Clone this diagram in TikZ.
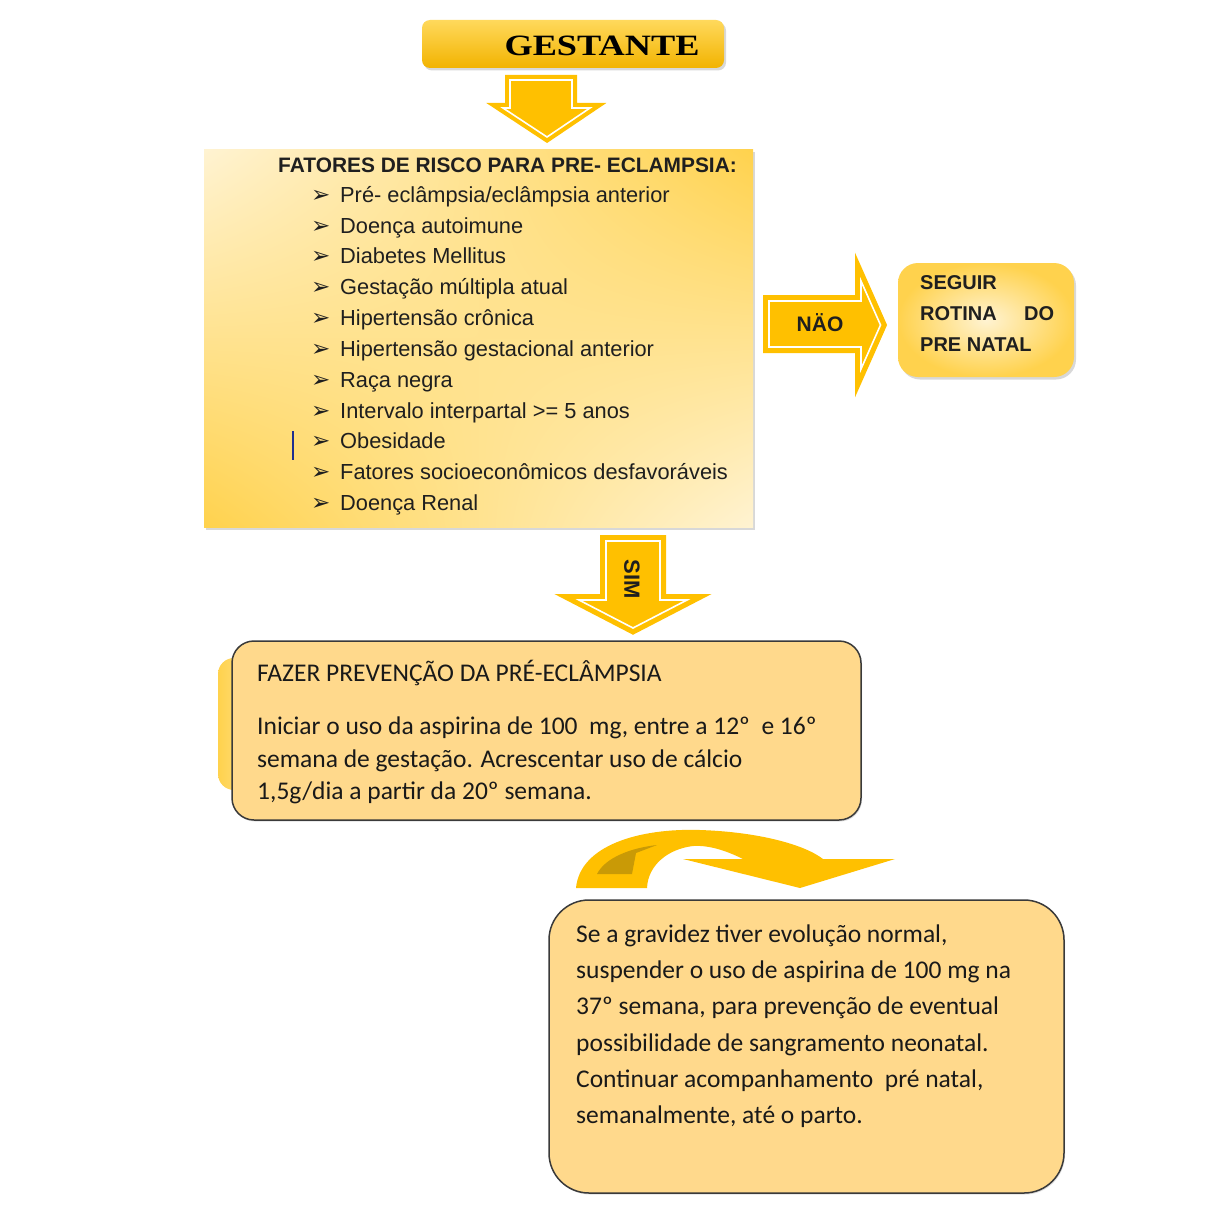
\documentclass[tikz,border=0pt]{standalone}
\usepackage{fontspec}
\setmainfont{Liberation Sans}
\newfontfamily\calib{Carlito}
\newfontfamily\tnr{Liberation Serif}
\newfontfamily\djv{DejaVu Sans}
\usetikzlibrary{shadows,shadings}
\definecolor{arrowor}{HTML}{FFC000}
\definecolor{boxfill}{HTML}{FFD98C}
\definecolor{boxline}{HTML}{3A3A3A}
\definecolor{goldA}{HTML}{FFD24D}
\definecolor{creamA}{HTML}{FFF3D2}
\definecolor{gestTop}{HTML}{FFD95C}
\definecolor{gestBot}{HTML}{F2B300}
\definecolor{darkgold}{HTML}{C99A06}
\definecolor{cursorblue}{HTML}{1F2F8F}
\newcommand\lbul{\makebox[29pt][l]{\djv\bfseries\fontsize{23}{23}\selectfont ➢}}
\tikzset{
  blockarrow/.style={fill=arrowor, draw=arrowor, line width=#1, line join=miter, miter limit=20},
  arrowhl/.style={draw=white, line width=1.6pt, line join=miter, miter limit=20},
  softshadow/.style={drop shadow={opacity=0.3, shadow xshift=2pt, shadow yshift=-2.5pt}},
  listitem/.style={anchor=base west, inner sep=0pt, font=\fontsize{21.8}{24}\selectfont, text=black!88},
  boldtext/.style={inner sep=0pt, font=\bfseries\fontsize{20}{24}\selectfont, text=black!88},
  lowtext/.style={anchor=base west, inner sep=0pt, font=\calib\fontsize{25.5}{28}\selectfont, text=black!90},
  roundbox/.style={fill=boxfill, draw=boxline, line width=1.5pt},
}
\begin{document}
\begin{tikzpicture}[x=1pt,y=-1pt]
\useasboundingbox[fill=white] (0,0) rectangle (1212,1212);

% ---------- GESTANTE ----------
\path[softshadow, top color=gestTop, bottom color=gestBot, rounded corners=8pt] (422,20) rectangle (724,68);
\node[inner sep=0pt, anchor=base, font=\tnr\bfseries\fontsize{29.5}{30}\selectfont] (gest) at (602,56) {\scalebox{1.23}[1]{GESTANTE}};

% down arrow 1
\path[blockarrow=10pt] (510,80) -- (572,80) -- (572,108) -- (590,108) -- (547,137) -- (503,108) -- (510,108) -- cycle;
\path[arrowhl] (510,80) -- (572,80) -- (572,108) -- (590,108) -- (547,137) -- (503,108) -- (510,108) -- cycle;

% ---------- risk factor box ----------
\shade[softshadow, upper left=creamA, upper right=goldA, lower left=goldA, lower right=creamA] (204,149) rectangle (753,527);
\node[boldtext, anchor=base west, font=\bfseries\fontsize{20.9}{24}\selectfont] (title) at (278,172) {FATORES DE RISCO PARA PRE- ECLAMPSIA:};
\node[listitem] (r1) at (311,202.5) {\lbul Pré- eclâmpsia/eclâmpsia anterior};
\node[listitem] (r2) at (311,233.5) {\lbul Doença autoimune};
\node[listitem] (r3) at (311,263.5) {\lbul Diabetes Mellitus};
\node[listitem] (r4) at (311,294.5) {\lbul Gestação múltipla atual};
\node[listitem] (r5) at (311,325.5) {\lbul Hipertensão crônica};
\node[listitem] (r6) at (311,356.5) {\lbul Hipertensão gestacional anterior};
\node[listitem] (r7) at (311,387.5) {\lbul Raça negra};
\node[listitem] (r8) at (311,418.5) {\lbul Intervalo interpartal >= 5 anos};
\node[listitem] (r9) at (311,448.5) {\lbul Obesidade};
\node[listitem] (r10) at (311,479.5) {\lbul Fatores socioeconômicos desfavoráveis};
\node[listitem] (r11) at (311,510.5) {\lbul Doença Renal};
\draw[cursorblue, line width=2.5pt] (293,431) -- (293,460);

% ---------- NAO arrow ----------
\path[blockarrow=12pt] (769,301) -- (861,301) -- (861,281) -- (880.5,325) -- (861,369) -- (861,347) -- (769,347) -- cycle;
\path[arrowhl] (769,301) -- (861,301) -- (861,281) -- (880.5,325) -- (861,369) -- (861,347) -- (769,347) -- cycle;
\node[boldtext, font=\bfseries\fontsize{21}{24}\selectfont] (nao) at (820,323) {NÄO};

% ---------- SEGUIR box ----------
\shade[softshadow, rounded corners=20pt, inner color=creamA, outer color=goldA] (898,263) rectangle (1074,377);
\node[boldtext, anchor=base west] (s1) at (920,289) {SEGUIR};
\node[boldtext, anchor=base west] (s2) at (920,320) {\hbox to 134pt{ROTINA\hfill DO}};
\node[boldtext, anchor=base west] (s3) at (920,351) {PRE NATAL};

% ---------- SIM arrow ----------
\path[blockarrow=12pt] (606,541) -- (660,541) -- (660,600) -- (687,600) -- (633,628) -- (579,600) -- (606,600) -- cycle;
\path[arrowhl] (606,541) -- (660,541) -- (660,600) -- (687,600) -- (633,628) -- (579,600) -- (606,600) -- cycle;
\node[boldtext, rotate=-90, font=\bfseries\fontsize{22}{24}\selectfont] (sim) at (632,579) {SIM};

% ---------- prevention box ----------
\shade[rounded corners=16pt, left color=goldA, right color=creamA] (218,658) rectangle (300,790);
\path[roundbox, rounded corners=22pt, drop shadow={opacity=0.25, shadow xshift=1pt, shadow yshift=-1.5pt}] (232,641) rectangle (861,820);
\node[lowtext] (p1) at (257,681) {FAZER PREVENÇÃO DA PRÉ-ECLÂMPSIA};
\node[lowtext] (p2) at (257,734) {Iniciar o uso da aspirina de 100\ \ mg, entre a 12º\ \ e 16º};
\node[lowtext] (p3) at (257,767) {semana de gestação. Acrescentar uso de cálcio};
\node[lowtext] (p4) at (257,799) {1,5g/dia a partir da 20º semana.};

% ---------- curved arrow ----------
\fill[arrowor] (576,888) .. controls (580,845) and (640,828) .. (700,830)
  .. controls (760,832) and (805,845) .. (823,859) -- (895,859) -- (800,888) -- (683,859) -- (743,859)
  .. controls (725,850) and (708,845) .. (693,846) .. controls (668,849) and (648,865) .. (647,888) -- cycle;
\fill[darkgold] (597,874) .. controls (605,858) and (630,848) .. (657,845) -- (636,853) -- (632,874) -- cycle;

% ---------- final box ----------
\path[roundbox, rounded corners=40pt, drop shadow={opacity=0.25, shadow xshift=1pt, shadow yshift=-1.5pt}] (549,900) rectangle (1064,1193);
\node[lowtext] (f1) at (576,942) {Se a gravidez tiver evolução normal,};
\node[lowtext] (f2) at (576,978) {suspender o uso de aspirina de 100 mg na};
\node[lowtext] (f3) at (576,1014) {37º semana, para prevenção de eventual};
\node[lowtext] (f4) at (576,1051) {possibilidade de sangramento neonatal.};
\node[lowtext] (f5) at (576,1087) {Continuar acompanhamento\ \ pré natal,};
\node[lowtext] (f6) at (576,1123) {semanalmente, até o parto.};
\end{tikzpicture}
\end{document}
